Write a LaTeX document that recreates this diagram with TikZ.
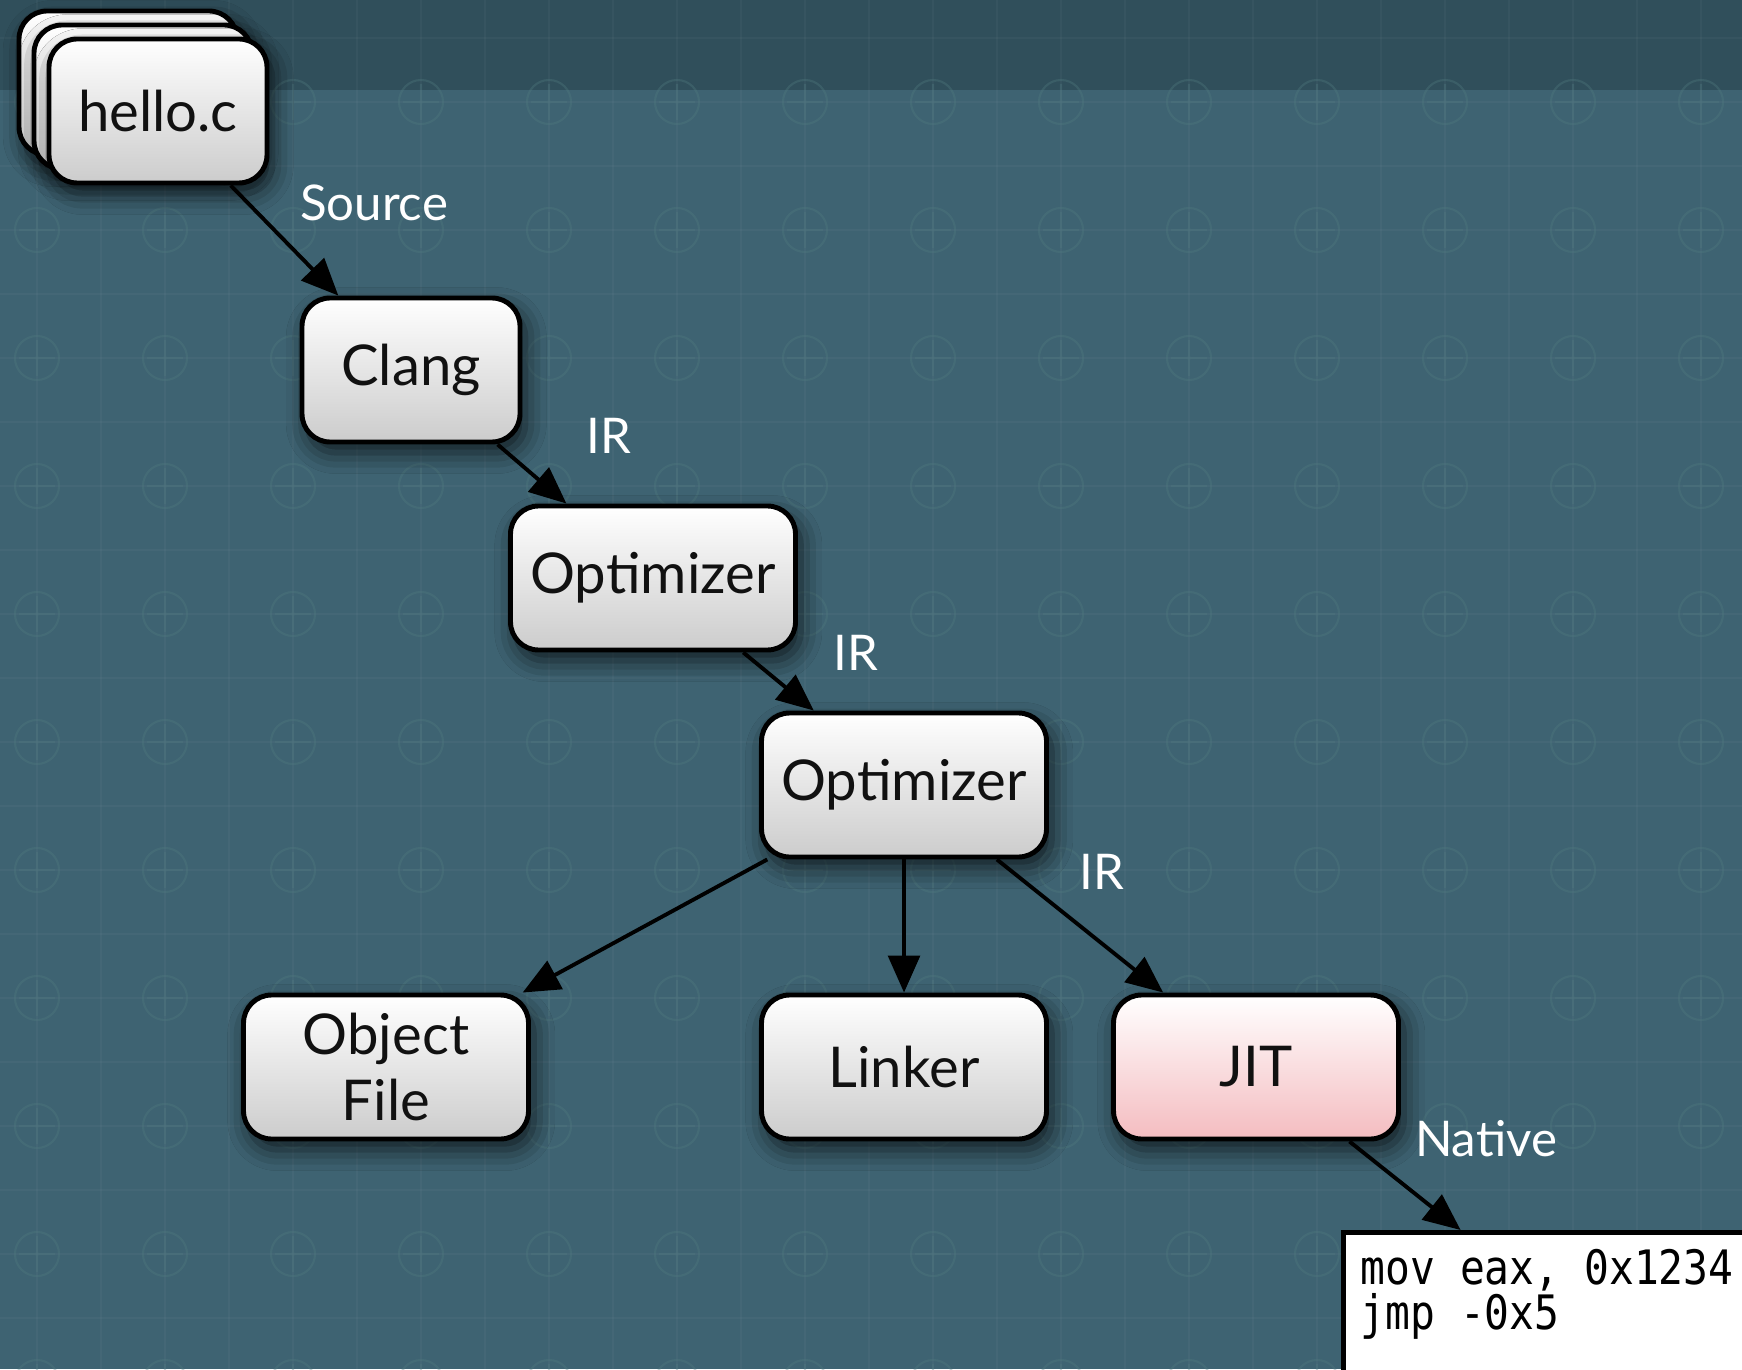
\documentclass[tikz,border=0pt]{standalone}
\usepackage{fontspec}
\setmainfont{Lato}
\newfontfamily\codefont[FakeStretch=0.87]{DejaVu Sans Mono}
\usetikzlibrary{arrows.meta, positioning, shadows.blur}
\definecolor{slate}{RGB}{62,99,114}
\definecolor{slatedark}{RGB}{48,79,91}
\definecolor{gridmark}{RGB}{82,122,128}
\definecolor{jitpink}{RGB}{244,188,192}
\definecolor{inkblack}{RGB}{17,17,17}
\tikzset{
  stage/.style={draw=black, top color=white, bottom color=gray!40, rounded corners=8pt,
                minimum width=#1, minimum height=1.44cm, align=center,
                font=\fontsize{16}{19}\selectfont, text=inkblack, line width=1.4pt,
                blur shadow={shadow xshift=1.5pt, shadow yshift=-3pt,
                             shadow blur radius=6pt, shadow opacity=70}},
  stage/.default=2.85cm,
  jitbox/.style={stage=#1, bottom color=jitpink},
  jitbox/.default=2.85cm,
  arr/.style={-{Triangle[length=10.5pt, width=9pt]}, line width=1.1pt},
  lbl/.style={text=white, font=\fontsize{14}{16}\selectfont},
}

\begin{document}
\begin{tikzpicture}[
        codebox/.style={draw=black, fill=white, line width=1.5pt, inner sep=0.17cm,
                        anchor=north west}]
  \useasboundingbox (0,0) rectangle (17.42,-13.69);
  \clip (0,0) rectangle (17.42,-13.69);
  % background
  \fill[slate] (0,0) rectangle (17.42,-13.69);
  \fill[slatedark] (0,0) rectangle (17.42,-0.90);
  \foreach \gx in {0,...,27}
    \draw[white, opacity=0.03, line width=0.5pt] ({0.37+0.64*\gx},0) -- ++(0,-13.69);
  \foreach \gy in {0,...,21}
    \draw[white, opacity=0.03, line width=0.5pt] (0,{-0.38-0.64*\gy}) -- ++(17.42,0);
  \foreach \gx in {0,...,13}
    \foreach \gy in {0,...,10}
      \draw[gridmark, opacity=0.35, line width=0.6pt] ({0.37+1.28*\gx},{-1.02-1.28*\gy}) circle (0.22)
        +(-0.18,0) -- +(0.18,0) +(0,-0.18) -- +(0,0.18);

  % source files
  \node[stage=2.18cm] (hellobackA) at (1.28,-0.83) {};
  \node[stage=2.18cm] (hellobackB) at (1.43,-0.97) {};
  \node[stage=2.18cm] (hello) at (1.58,-1.11) {hello.c};
  \node[stage=2.18cm] (clang) at (4.11,-3.70) {Clang};
  \node[stage] (optA) at (6.53,-5.78) {Optimizer};
  \node[stage] (optB) at (9.04,-7.85) {Optimizer};
  \node[stage] (obj) at (3.86,-10.67) {Object\\File};
  \node[stage] (linker) at (9.04,-10.67) {Linker};
  \node[jitbox] (jit) at (12.56,-10.67) {JIT};
  \node[codebox] (code) at (13.41,-12.30)
    {\parbox[t][1.17cm][t]{3.96cm}{\raggedright\codefont\fontsize{13.5}{12.6}\selectfont
      mov eax, 0x1234\\jmp -0x5}};

  % edges
  \draw[arr] (hello) -- (clang);
  \draw[arr] (clang) -- (optA);
  \draw[arr] (optA) -- (optB);
  \draw[arr] (optB) -- (obj);
  \draw[arr] (optB) -- (linker);
  \draw[arr] (optB) -- (jit);
  \draw[arr] (jit) -- (code);

  \node[lbl] (lsrc) at (3.74,-2.03) {Source};
  \node[lbl] (lirA) at (6.09,-4.36) {IR};
  \node[lbl] (lirB) at (8.56,-6.53) {IR};
  \node[lbl] (lirC) at (11.02,-8.72) {IR};
  \node[lbl] (lnat) at (14.86,-11.39) {Native};
\end{tikzpicture}
\end{document}
